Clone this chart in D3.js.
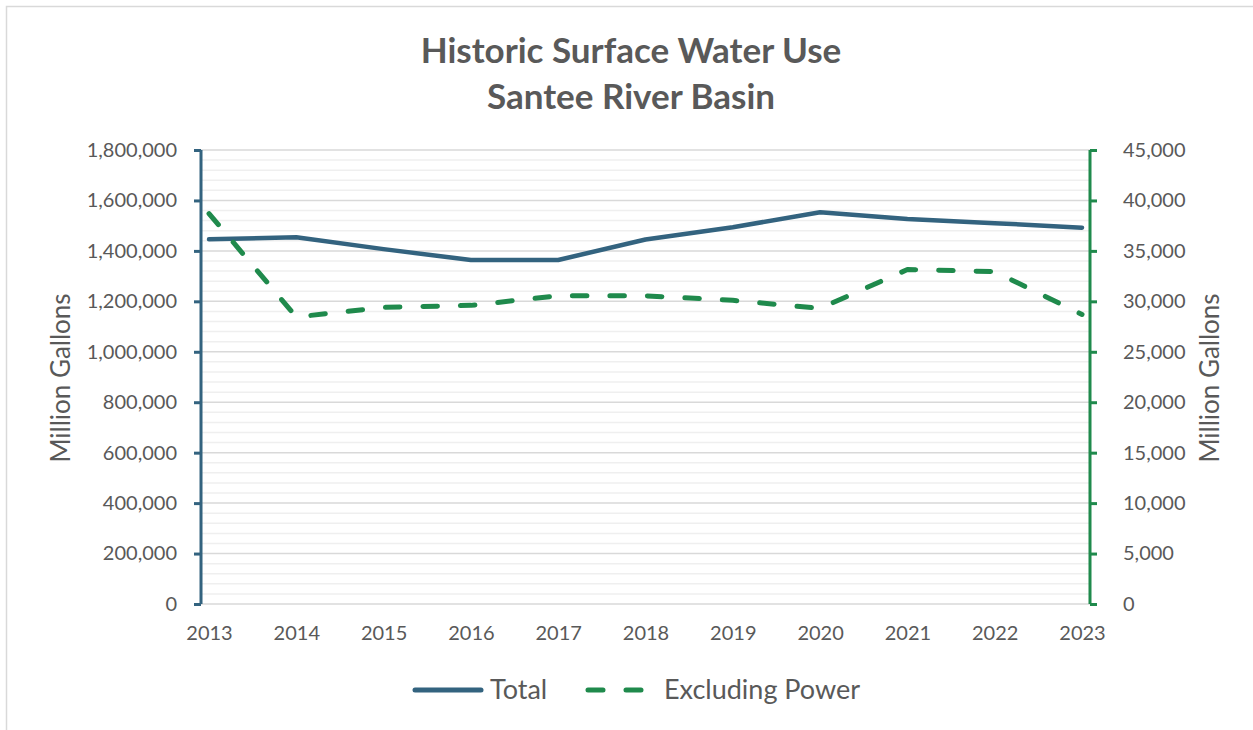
<!DOCTYPE html>
<html>
<head>
<meta charset="utf-8">
<script src="https://cdn.jsdelivr.net/npm/d3@7"></script>
<style>
  html, body { margin: 0; padding: 0; background: #fff; }
  svg { display: block; font-family: Lato, "Open Sans", sans-serif; }
</style>
</head>
<body>
<svg id="chart" width="1253" height="730"></svg>
<script>
// Annual surface water use, Santee River Basin (million gallons)
const years = ["2013", "2014", "2015", "2016", "2017", "2018", "2019", "2020", "2021", "2022", "2023"];
const totalUse = [1446000, 1454000, 1407000, 1364000, 1364000, 1445000, 1494000, 1553000, 1526000, 1510000, 1492000];
const excludingPower = [38700, 28450, 29400, 29600, 30550, 30550, 30100, 29300, 33150, 32950, 28700];
const leftTicks = [0, 200000, 400000, 600000, 800000, 1000000, 1200000, 1400000, 1600000, 1800000];
const rightTicks = [0, 5000, 10000, 15000, 20000, 25000, 30000, 35000, 40000, 45000];
const seriesNames = ["Total", "Excluding Power"];

const W = 1253, H = 730;
const plot = { left: 201, right: 1090, top: 150, bottom: 604 };
const blue = "#33637f";
const green = "#1f8a4c";
const textGray = "#595959";

const svg = d3.select("#chart");

// outer chart frame
svg.append("rect")
  .attr("x", 6.5).attr("y", 6.5)
  .attr("width", W + 10).attr("height", H + 10)
  .attr("fill", "#fff").attr("stroke", "#d9d9d9").attr("stroke-width", 1.5);

const x = d3.scalePoint().domain(years).range([209, 1082]);
const yL = d3.scaleLinear().domain([0, 1800000]).range([plot.bottom, plot.top]);
const yR = d3.scaleLinear().domain([0, 45000]).range([plot.bottom, plot.top]);

// minor gridlines (every 40,000)
const minorVals = d3.range(0, 1800001, 40000).filter(v => v % 200000 !== 0);
svg.append("g").selectAll("line").data(minorVals).join("line")
  .attr("x1", plot.left).attr("x2", plot.right)
  .attr("y1", d => yL(d)).attr("y2", d => yL(d))
  .attr("stroke", "#efefef").attr("stroke-width", 1.5);

// major gridlines
svg.append("g").selectAll("line").data(leftTicks).join("line")
  .attr("x1", plot.left).attr("x2", plot.right)
  .attr("y1", d => yL(d)).attr("y2", d => yL(d))
  .attr("stroke", "#d9d9d9").attr("stroke-width", 1.5);

// left axis
const fmt = d3.format(",");
const gL = svg.append("g").attr("transform", `translate(${plot.left},0)`)
  .call(d3.axisLeft(yL).tickValues(leftTicks).tickFormat(fmt).tickSize(7).tickPadding(17));
gL.select(".domain").attr("stroke", blue).attr("stroke-width", 3).attr("d", `M0,${plot.top}V${plot.bottom}`);
gL.selectAll(".tick line").attr("stroke", blue).attr("stroke-width", 3);
gL.selectAll(".tick text").attr("fill", textGray).style("font-size", "20px").style("font-family", "Lato");

// right axis
const gR = svg.append("g").attr("transform", `translate(${plot.right},0)`)
  .call(d3.axisRight(yR).tickValues(rightTicks).tickFormat(fmt).tickSize(7).tickPadding(26));
gR.select(".domain").attr("stroke", green).attr("stroke-width", 3).attr("d", `M0,${plot.top}V${plot.bottom}`);
gR.selectAll(".tick line").attr("stroke", green).attr("stroke-width", 3);
gR.selectAll(".tick text").attr("fill", textGray).style("font-size", "20px").style("font-family", "Lato");

// bottom axis labels
const gB = svg.append("g").attr("transform", `translate(0,${plot.bottom})`)
  .call(d3.axisBottom(x).tickSize(0).tickPadding(22));
gB.select(".domain").remove();
gB.selectAll(".tick text").attr("fill", textGray).style("font-size", "20px").style("font-family", "Lato");

// series lines
const lineL = d3.line().x((d, i) => x(years[i])).y(d => yL(d));
const lineR = d3.line().x((d, i) => x(years[i])).y(d => yR(d));

svg.append("path").datum(totalUse)
  .attr("d", lineL).attr("fill", "none")
  .attr("stroke", blue).attr("stroke-width", 4.5)
  .attr("stroke-linejoin", "round").attr("stroke-linecap", "round");

svg.append("path").datum(excludingPower)
  .attr("d", lineR).attr("fill", "none")
  .attr("stroke", green).attr("stroke-width", 5)
  .attr("stroke-dasharray", "14.5,23")
  .attr("stroke-linejoin", "round").attr("stroke-linecap", "round");

// title
const title = svg.append("text").attr("text-anchor", "middle")
  .attr("fill", textGray).style("font-weight", "bold").style("font-size", "35px");
title.append("tspan").attr("x", 631).attr("y", 63).text("Historic Surface Water Use");
title.append("tspan").attr("x", 631).attr("y", 109).text("Santee River Basin");

// axis titles
svg.append("text").attr("transform", "translate(70,378) rotate(-90)")
  .attr("text-anchor", "middle").attr("fill", textGray).style("font-size", "26px")
  .text("Million Gallons");
svg.append("text").attr("transform", "translate(1219,378) rotate(-90)")
  .attr("text-anchor", "middle").attr("fill", textGray).style("font-size", "26px")
  .text("Million Gallons");

// legend
const lg = svg.append("g");
lg.append("line").attr("x1", 415).attr("x2", 481).attr("y1", 690).attr("y2", 690)
  .attr("stroke", blue).attr("stroke-width", 5).attr("stroke-linecap", "round");
lg.append("text").attr("x", 490).attr("y", 699).attr("fill", textGray).style("font-size", "27px").text(seriesNames[0]);
lg.append("line").attr("x1", 588).attr("x2", 643).attr("y1", 690).attr("y2", 690)
  .attr("stroke", green).attr("stroke-width", 5).attr("stroke-linecap", "round")
  .attr("stroke-dasharray", "15,23");
lg.append("text").attr("x", 664).attr("y", 699).attr("fill", textGray).style("font-size", "27px").text(seriesNames[1]);
</script>
</body>
</html>
